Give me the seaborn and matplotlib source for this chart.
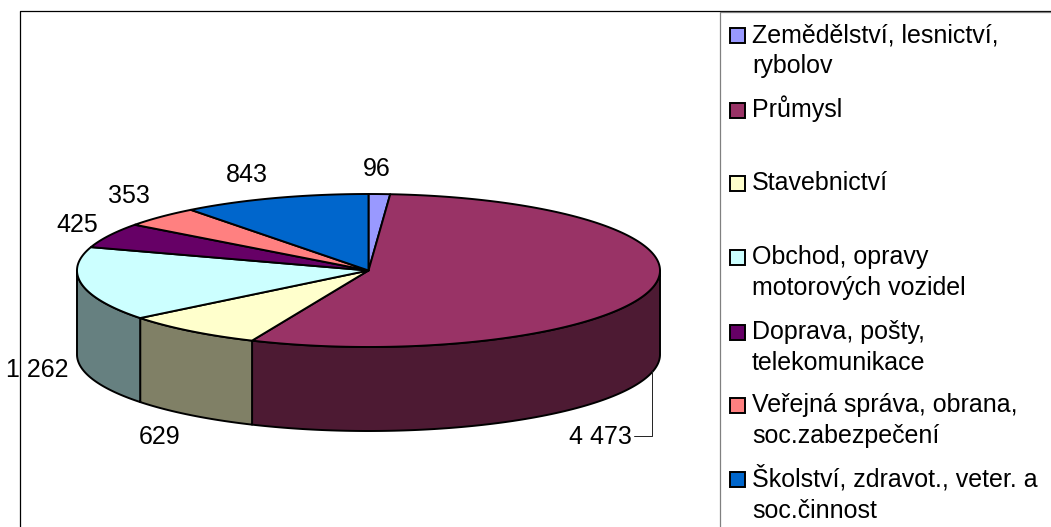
#!/usr/bin/env python3
import numpy as np
import matplotlib
matplotlib.use('Agg')
import matplotlib.pyplot as plt
from matplotlib.patches import Rectangle
import seaborn as sns

# hodnoty a popisky
categories = ['Zemědělství, lesnictví,\nrybolov', 'Průmysl', 'Stavebnictví',
              'Obchod, opravy\nmotorových vozidel', 'Doprava, pošty,\ntelekomunikace',
              'Veřejná správa, obrana,\nsoc.zabezpečení', 'Školství, zdravot., veter. a\nsoc.činnost']
values = [96, 4473, 629, 1262, 425, 353, 843]
value_labels = ['96', '4 473', '629', '1 262', '425', '353', '843']
colors = ['#9999FF', '#993366', '#FFFFCC', '#CCFFFF', '#660066', '#FF8080', '#0066CC']

# pixel layout
W, H = 1051, 527
CX, CY = 368.5, 270.5
A, B = 291.5, 76.5
DEPTH = 84
FS = 25 * 72 / 100
LW = 1.4

# label centre x, baseline y
label_pos = [(377, 176), (600, 444), (160, 444), (37.5, 377), (77, 232), (129, 203), (247, 182)]
legend_y = [35, 110, 183, 257, 332, 405, 479]
LINE_H = 31.5


def rim(t):
    # theta clockwise from 12 o'clock
    return CX + A * np.sin(t), CY - B * np.cos(t)


sns.set_theme(style="white")
plt.rcParams['font.family'] = ['Liberation Sans', 'DejaVu Sans']

fig = plt.figure(figsize=(W / 100, H / 100), dpi=100)
ax = fig.add_axes([0, 0, 1, 1])
ax.set_xlim(0, W)
ax.set_ylim(H, 0)
ax.axis('off')

palette = sns.color_palette(colors)
edges = np.cumsum([0] + values) / sum(values) * 2 * np.pi

# outer frame
ax.plot([W, 19.5, 19.5], [10.5, 10.5, H], color='black', lw=0.9, zorder=1)

# side wall (only the front half is visible)
for i in range(len(values)):
    lo = max(edges[i], np.pi / 2)
    hi = min(edges[i + 1], 3 * np.pi / 2)
    if hi <= lo:
        continue
    t = np.linspace(lo, hi, 120)
    x, y = rim(t)
    shade = tuple(0.5 * c for c in palette[i])
    ax.fill(np.r_[x, x[::-1]], np.r_[y, y[::-1] + DEPTH], facecolor=shade,
            edgecolor='black', lw=LW, joinstyle='round', zorder=2)

# top
for i in range(len(values)):
    t = np.linspace(edges[i], edges[i + 1], 200)
    x, y = rim(t)
    ax.fill(np.r_[CX, x], np.r_[CY, y], facecolor=palette[i],
            edgecolor='black', lw=LW, joinstyle='round', zorder=3)

# data labels
for s, (lx, ly) in zip(value_labels, label_pos):
    ax.text(lx, ly, s, fontsize=FS, color='black', ha='center', va='baseline', zorder=5)
ax.plot([651.5, 651.5, 634], [371, 436, 436], color='#222222', lw=0.7, zorder=4)

# legend
ax.plot([W, 719.5, 719.5], [12, 12, H], color='#808080', lw=0.9, zorder=4)
for name, c, ly in zip(categories, palette, legend_y):
    ax.add_patch(Rectangle((729.5, ly - 7.5), 15, 15, facecolor=c, edgecolor='black', lw=LW, zorder=5))
    for j, line in enumerate(name.split('\n')):
        ax.text(752, ly + 7 + j * LINE_H, line, fontsize=FS, color='black', ha='left', va='baseline', zorder=5)

fig.savefig('out.png', dpi=100, facecolor='white')
